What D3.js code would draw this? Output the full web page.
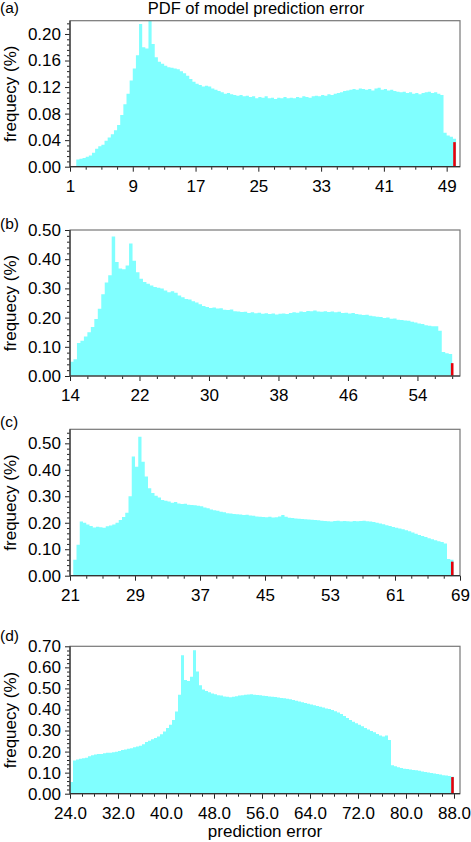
<!DOCTYPE html>
<html lang="en">
<head>
    <meta charset="UTF-8">
    <title>PDF of model prediction error</title>
    <style>
        body { margin: 0; background: #fff; }
        svg { display: block; font-family: "Liberation Sans", Arial, sans-serif; }
        .hist { fill: #80ffff; stroke: none; }
        .lastbin { fill: #e8000b; }
        .tick text { font-size: 17px; fill: #000; }
        .tick line { stroke: #222; }
    </style>
</head>
<body>
    <div id="chart"></div>
    <script src="https://d3js.org/d3.v7.min.js"></script>
    <script>
        // histogram bins: first left edge and bin width per panel
        const panelLabels = ["(a)", "(b)", "(c)", "(d)"];
        const binStart = [1.8, 14.0, 21.4, 24.0];
        const binWidth = [0.4, 0.4, 0.4, 0.5];

        // frequency (%) per bin
        const freqA = [
            0.011, 0.012, 0.013, 0.015, 0.017, 0.021, 0.027, 0.031, 0.033, 0.039,
            0.044, 0.049, 0.055, 0.063, 0.078, 0.094, 0.110, 0.130, 0.148, 0.168,
            0.215, 0.180, 0.178, 0.220, 0.185, 0.165, 0.158, 0.155, 0.152, 0.150,
            0.149, 0.148, 0.147, 0.144, 0.141, 0.137, 0.132, 0.128, 0.125, 0.123,
            0.121, 0.122, 0.121, 0.118, 0.116, 0.114, 0.112, 0.110, 0.111, 0.109,
            0.108, 0.107, 0.108, 0.106, 0.107, 0.105, 0.106, 0.103, 0.105, 0.104,
            0.106, 0.103, 0.104, 0.102, 0.104, 0.103, 0.105, 0.103, 0.104, 0.103,
            0.105, 0.104, 0.106, 0.105, 0.104, 0.106, 0.107, 0.106, 0.108, 0.107,
            0.109, 0.108, 0.110, 0.111, 0.112, 0.114, 0.115, 0.116, 0.117, 0.116,
            0.118, 0.117, 0.116, 0.117, 0.115, 0.118, 0.119, 0.116, 0.117, 0.115,
            0.116, 0.114, 0.113, 0.112, 0.113, 0.111, 0.112, 0.110, 0.111, 0.109,
            0.111, 0.112, 0.113, 0.111, 0.112, 0.110, 0.108, 0.051, 0.047, 0.045,
            0.042
        ];
        const freqB = [
            0.049, 0.057, 0.113, 0.121, 0.135, 0.150, 0.168, 0.195, 0.230, 0.280,
            0.320, 0.345, 0.478, 0.390, 0.368, 0.366, 0.378, 0.454, 0.395, 0.355,
            0.333, 0.322, 0.316, 0.310, 0.305, 0.302, 0.300, 0.293, 0.287, 0.290,
            0.285, 0.276, 0.270, 0.264, 0.262, 0.256, 0.252, 0.246, 0.240, 0.236,
            0.233, 0.235, 0.231, 0.232, 0.227, 0.226, 0.228, 0.222, 0.221, 0.219,
            0.220, 0.216, 0.218, 0.215, 0.217, 0.213, 0.215, 0.212, 0.214, 0.211,
            0.213, 0.214, 0.212, 0.216, 0.218, 0.217, 0.221, 0.219, 0.223, 0.222,
            0.224, 0.221, 0.220, 0.222, 0.219, 0.221, 0.218, 0.220, 0.216, 0.217,
            0.214, 0.216, 0.212, 0.211, 0.209, 0.210, 0.206, 0.205, 0.203, 0.202,
            0.199, 0.200, 0.196, 0.197, 0.193, 0.192, 0.190, 0.189, 0.186, 0.183,
            0.180, 0.178, 0.174, 0.172, 0.170, 0.170, 0.155, 0.082, 0.078, 0.075
        ];
        const freqC = [
            0.060, 0.117, 0.205, 0.200, 0.193, 0.188, 0.182, 0.185, 0.183, 0.181,
            0.187, 0.190, 0.193, 0.200, 0.210, 0.222, 0.238, 0.300, 0.450, 0.412,
            0.525, 0.430, 0.375, 0.330, 0.312, 0.302, 0.295, 0.286, 0.283, 0.280,
            0.276, 0.278, 0.273, 0.271, 0.272, 0.268, 0.267, 0.266, 0.264, 0.262,
            0.258, 0.255, 0.250, 0.247, 0.245, 0.242, 0.240, 0.236, 0.235, 0.233,
            0.232, 0.231, 0.229, 0.230, 0.227, 0.226, 0.224, 0.223, 0.222, 0.221,
            0.223, 0.220, 0.221, 0.224, 0.229, 0.223, 0.219, 0.218, 0.216, 0.215,
            0.214, 0.213, 0.212, 0.211, 0.210, 0.209, 0.208, 0.207, 0.206, 0.205,
            0.207, 0.208, 0.206, 0.207, 0.206, 0.205, 0.207, 0.206, 0.207, 0.208,
            0.206, 0.205, 0.203, 0.200, 0.197, 0.194, 0.191, 0.188, 0.184, 0.181,
            0.178, 0.175, 0.172, 0.168, 0.163, 0.158, 0.154, 0.150, 0.146, 0.141,
            0.138, 0.134, 0.130, 0.127, 0.122, 0.063, 0.060
        ];
        const freqD = [
            0.055, 0.158, 0.163, 0.166, 0.168, 0.171, 0.178, 0.183, 0.186, 0.189,
            0.188, 0.192, 0.195, 0.194, 0.197, 0.199, 0.203, 0.207, 0.210, 0.214,
            0.216, 0.220, 0.224, 0.228, 0.235, 0.245, 0.252, 0.258, 0.264, 0.272,
            0.282, 0.295, 0.312, 0.328, 0.350, 0.390, 0.470, 0.658, 0.540, 0.535,
            0.555, 0.681, 0.580, 0.515, 0.495, 0.488, 0.482, 0.476, 0.472, 0.468,
            0.466, 0.462, 0.460, 0.458, 0.461, 0.463, 0.466, 0.468, 0.470, 0.471,
            0.472, 0.470, 0.469, 0.467, 0.465, 0.464, 0.462, 0.460, 0.459, 0.457,
            0.455, 0.453, 0.451, 0.448, 0.445, 0.441, 0.438, 0.434, 0.431, 0.427,
            0.424, 0.420, 0.416, 0.413, 0.409, 0.405, 0.402, 0.398, 0.392, 0.386,
            0.378, 0.369, 0.360, 0.350, 0.342, 0.335, 0.328, 0.320, 0.312, 0.305,
            0.298, 0.292, 0.284, 0.276, 0.272, 0.276, 0.255, 0.135, 0.130, 0.126,
            0.122, 0.119, 0.117, 0.115, 0.113, 0.111, 0.109, 0.106, 0.103, 0.101,
            0.098, 0.096, 0.093, 0.091, 0.088, 0.086, 0.084, 0.081
        ];
        const freqs = [freqA, freqB, freqC, freqD];

        // red marker bar near the end of each distribution
        const redErr = [50.0, 58.0, 68.05, 87.75];
        const redFreq = [0.037, 0.044, 0.053, 0.079];

        // axes
        const xDomains = [[1, 50.7], [14, 58.9], [21, 69], [24, 89]];
        const yDomains = [[0, 0.22], [0, 0.5], [0, 0.553], [0, 0.7]];
        const xMajor = [
            [1, 9, 17, 25, 33, 41, 49],
            [14, 22, 30, 38, 46, 54],
            [21, 29, 37, 45, 53, 61, 69],
            [24, 32, 40, 48, 56, 64, 72, 80, 88]
        ];
        const xMinorStep = [2, 2, 2, 2];
        const yMajor = [
            [0, 0.04, 0.08, 0.12, 0.16, 0.20],
            [0, 0.1, 0.2, 0.3, 0.4, 0.5],
            [0, 0.1, 0.2, 0.3, 0.4, 0.5],
            [0, 0.1, 0.2, 0.3, 0.4, 0.5, 0.6, 0.7]
        ];
        const yMinorStep = [0.008, 0.02, 0.02, 0.02];
        const xFormats = ["d", "d", "d", ".1f"];

        const title = "PDF of model prediction error";
        const yTitle = "frequecy (%)";
        const xTitle = "prediction error";

        // layout
        const W = 471, H = 842;
        const left = 70, right = 460;
        const tops = [20.7, 230, 429.3, 646.3];
        const bottoms = [166.7, 376, 575.7, 793.7];
        const labelBase = [12.5, 228.5, 427, 641];

        const svg = d3.select("#chart").append("svg")
            .attr("width", W).attr("height", H);

        svg.append("text")
            .attr("x", 256).attr("y", 14)
            .attr("text-anchor", "middle")
            .style("font-size", "16.5px")
            .text(title);

        freqs.forEach((freq, p) => {
            const x = d3.scaleLinear().domain(xDomains[p]).range([left, right]);
            const y = d3.scaleLinear().domain(yDomains[p]).range([bottoms[p], tops[p]]);
            const g = svg.append("g");

            // histogram outline as one stepped area (no seams between bins)
            const pts = freq.map((v, i) => [binStart[p] + i * binWidth[p], v]);
            pts.push([binStart[p] + freq.length * binWidth[p], freq[freq.length - 1]]);
            const area = d3.area()
                .x(d => x(d[0]))
                .y0(y(0))
                .y1(d => y(Math.min(d[1], yDomains[p][1])))
                .curve(d3.curveStepAfter);
            g.append("path")
                .datum(pts)
                .attr("class", "hist")
                .attr("d", area);

            g.append("rect")
                .attr("class", "lastbin")
                .attr("x", x(redErr[p]) - 1.3)
                .attr("width", 2.6)
                .attr("y", y(redFreq[p]))
                .attr("height", y(0) - y(redFreq[p]));

            // minor ticks
            const xMin = d3.range(xDomains[p][0], xDomains[p][1] + 1e-9, xMinorStep[p])
                .filter(v => !xMajor[p].some(m => Math.abs(m - v) < 1e-6));
            const yMin = d3.range(0, yDomains[p][1] + 1e-9, yMinorStep[p])
                .filter(v => !yMajor[p].some(m => Math.abs(m - v) < 1e-6));

            g.append("g")
                .attr("transform", `translate(0,${bottoms[p]})`)
                .call(d3.axisBottom(x).tickValues(xMin).tickSize(3).tickFormat(""))
                .call(a => a.select(".domain").remove());
            g.append("g")
                .attr("transform", `translate(0,${bottoms[p]})`)
                .call(d3.axisBottom(x).tickValues(xMajor[p]).tickSize(5).tickPadding(8)
                    .tickFormat(d3.format(xFormats[p])))
                .call(a => a.select(".domain").remove());

            g.append("g")
                .attr("transform", `translate(${left},0)`)
                .call(d3.axisLeft(y).tickValues(yMin).tickSize(3).tickFormat(""))
                .call(a => a.select(".domain").remove());
            g.append("g")
                .attr("transform", `translate(${left},0)`)
                .call(d3.axisLeft(y).tickValues(yMajor[p]).tickSize(5).tickPadding(4)
                    .tickFormat(d3.format(".2f")))
                .call(a => a.select(".domain").remove());

            // frame
            g.append("rect")
                .attr("x", left).attr("y", tops[p])
                .attr("width", right - left).attr("height", bottoms[p] - tops[p])
                .attr("fill", "none").attr("stroke", "#777").attr("stroke-width", 1.2);
            g.append("path")
                .attr("d", `M${left},${tops[p]}V${bottoms[p]}H${right}`)
                .attr("fill", "none").attr("stroke", "#333").attr("stroke-width", 1.2);

            // labels
            g.append("text")
                .attr("x", 0).attr("y", labelBase[p])
                .style("font-size", "15.5px")
                .text(panelLabels[p]);
            g.append("text")
                .attr("transform", `translate(16,${(tops[p] + bottoms[p]) / 2}) rotate(-90)`)
                .attr("text-anchor", "middle")
                .style("font-size", "17px")
                .text(yTitle);
        });

        svg.append("text")
            .attr("x", 265).attr("y", 837)
            .attr("text-anchor", "middle")
            .style("font-size", "17px")
            .text(xTitle);
    </script>
</body>
</html>
